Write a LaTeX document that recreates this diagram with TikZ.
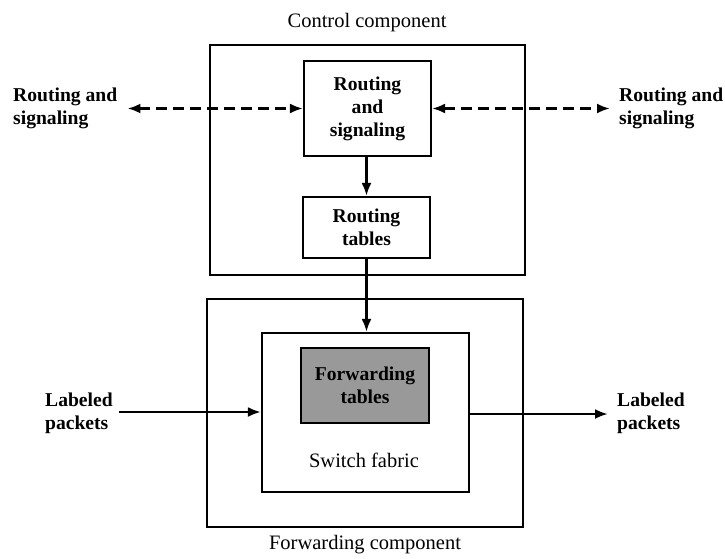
\documentclass[tikz,border=0pt]{standalone}
\usepackage{fontspec}
\setmainfont{Liberation Serif}
\usetikzlibrary{arrows.meta}
\begin{document}
\begin{tikzpicture}[x=1pt,y=-1pt,
  every node/.style={font=\fontsize{20.5}{23}\selectfont, align=center, inner sep=0pt},
  heavy/.style={font=\fontsize{19.6}{23}\selectfont\bfseries},
  outerbox/.style={draw, line width=1.8pt, minimum width=#1},
  innerbox/.style={draw, line width=2.1pt, heavy},
  txt/.style={align=left, heavy},
  arr/.style={line width=2.8pt, -{Latex[length=13pt,width=10pt]}},
  dbl/.style={line width=2.8pt, dash pattern=on 11pt off 6pt,
              {Latex[length=13pt,width=10pt]}-{Latex[length=13pt,width=10pt]}}
]
\useasboundingbox (0,0) rectangle (725,559);

% control component
\node[outerbox=315pt, minimum height=230pt] (ctrl) at (367.5,160) {};
\node (ctrllab) at (367,23) {Control component};
\node[innerbox, minimum width=127pt, minimum height=95pt] (rs) at (367.5,108.5) {Routing\\and\\signaling};
\node[innerbox, minimum width=127pt, minimum height=61pt] (rt) at (366.5,227.5) {Routing\\tables};

% forwarding component
\node[outerbox=316pt, minimum height=228pt] (fwd) at (365,413) {};
\node (fwdlab) at (365,545) {Forwarding component};
\node[innerbox, minimum width=207pt, minimum height=159pt] (sf) at (365.5,412.5) {};
\node[draw, line width=2.1pt, fill=black!40, text=black, minimum width=128pt, minimum height=75pt,
      heavy] (ft) at (365,385.5) {Forwarding\\tables};
\node (sflab) at (364,460) {Switch fabric};

% side labels
\node[txt, anchor=west] (lrs) at (13,108) {Routing and\\signaling};
\node[txt, anchor=west] (rrs) at (619,108) {Routing and\\signaling};
\node[txt, anchor=west] (lin) at (45,413) {Labeled\\packets};
\node[txt, anchor=west] (lout) at (617,413) {Labeled\\packets};

% connectors
\draw[dbl] ([xshift=10pt]lrs.east |- rs.west) -- (rs.west);
\draw[dbl] (rs.east) -- ([xshift=-9pt]rrs.west |- rs.east);
\draw[arr] (rt.north |- rs.south) -- (rt.north);
\draw[arr] (rt.south) -- (rt.south |- sf.north);
\draw[arr] ([xshift=6pt]lin.east |- 0,412) -- (sf.west |- 0,412);
\draw[arr] (sf.east |- 0,414) -- ([xshift=-9pt]lout.west |- 0,414);
\end{tikzpicture}
\end{document}
